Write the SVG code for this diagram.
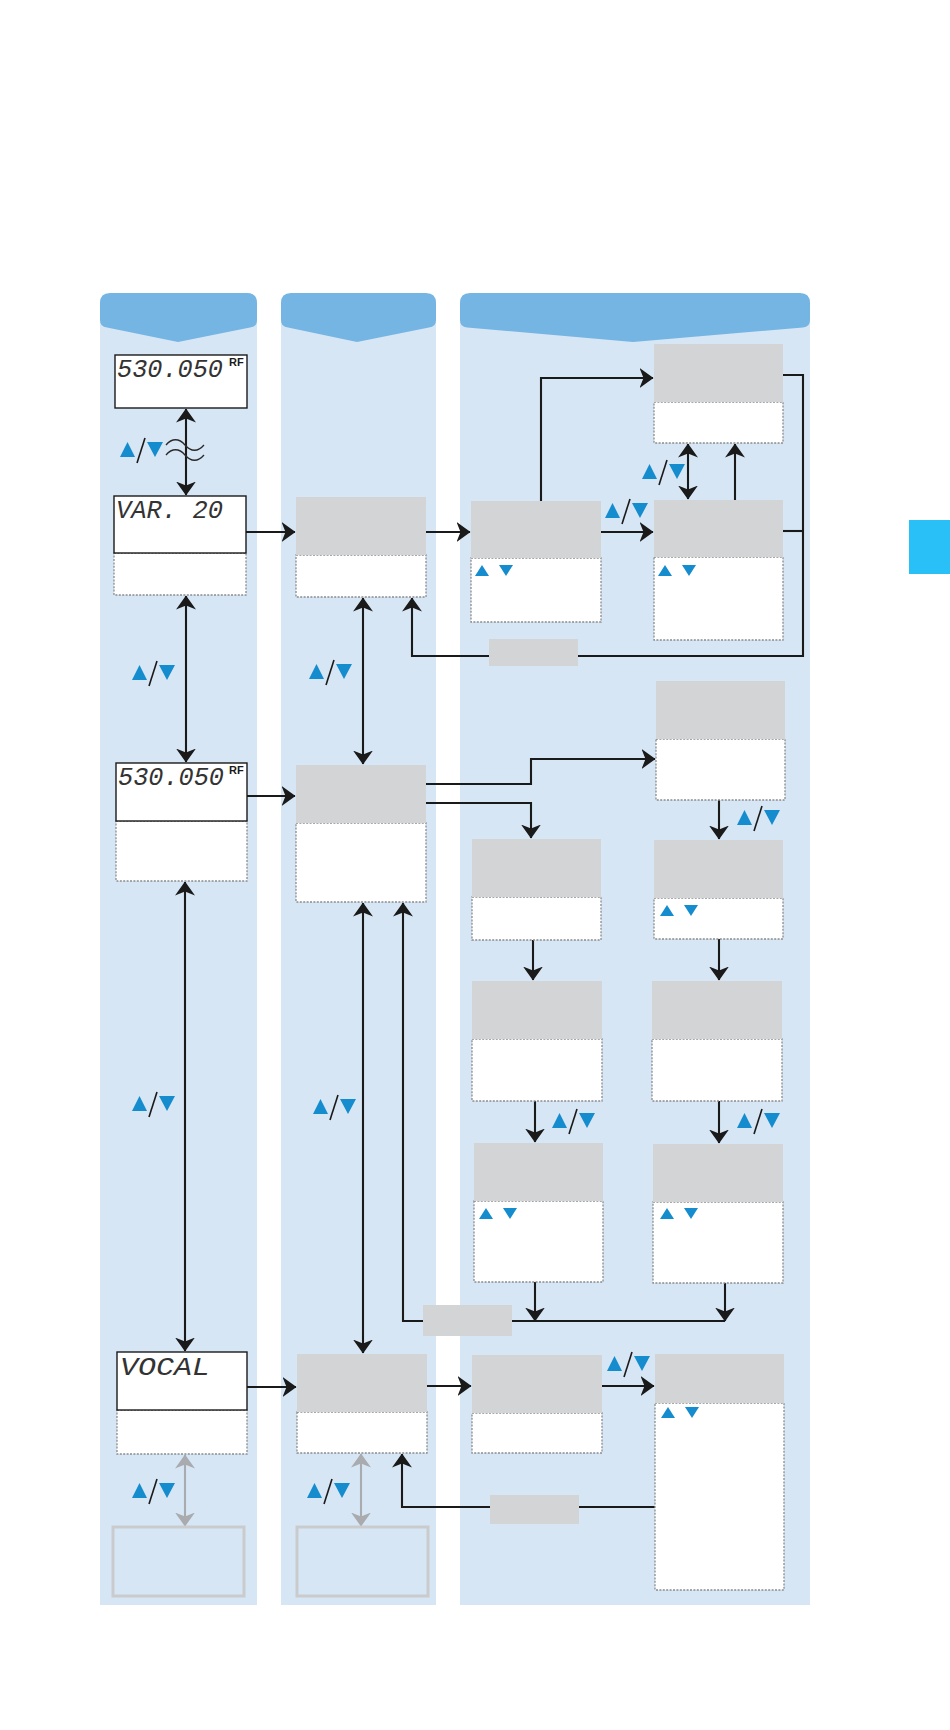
<svg xmlns="http://www.w3.org/2000/svg" width="950" height="1730" viewBox="0 0 950 1730">
<style>
.band{fill:#d7e6f4}
.hdr{fill:#74b5e4}
.grey{fill:#d3d4d6}
.dot{fill:#fff;stroke:#8a8c8e;stroke-width:1.3;stroke-dasharray:2 1.4}
.lcd{fill:#fff;stroke:#1a1a1a;stroke-width:1.4}
.fade{fill:none;stroke:#c9cbcd;stroke-width:3}
.ln{fill:none;stroke:#1a1a1a;stroke-width:2.1}
.gl{fill:none;stroke:#a9abae;stroke-width:2.1}
.tri{fill:#148ccd}
.lt{font-family:"Liberation Mono",monospace;font-style:italic;font-size:25px;fill:#333}
.rf{font-family:"Liberation Sans",Arial,sans-serif;font-weight:bold;font-size:11px;fill:#1a1a1a}
</style>
<defs>
<marker id="ah" viewBox="0 0 14 20" markerWidth="14" markerHeight="20" refX="13.5" refY="10" orient="auto-start-reverse" markerUnits="userSpaceOnUse">
<path d="M0,0 L14,10 L0,20 L4,10 z" fill="#1a1a1a"/>
</marker>
<marker id="gh" viewBox="0 0 14 20" markerWidth="14" markerHeight="20" refX="13.5" refY="10" orient="auto-start-reverse" markerUnits="userSpaceOnUse">
<path d="M0,0 L14,10 L0,20 L4,10 z" fill="#a9abae"/>
</marker>
<g id="ud">
<polygon class="tri" points="0,15 7.5,0 15,15"/>
<line x1="17" y1="21" x2="25" y2="-4" stroke="#1a1a1a" stroke-width="1.6"/>
<polygon class="tri" points="27,0 43,0 35,15"/>
</g>
<g id="pr">
<polygon class="tri" points="0,11 7,0 14,11"/>
<polygon class="tri" points="24,0 38,0 31,11"/>
</g>
</defs>

<g id="bands">
<rect class="band" x="100" y="300" width="157" height="1305"/>
<rect class="band" x="281" y="300" width="155" height="1305"/>
<rect class="band" x="460" y="300" width="350" height="1305"/>
<path class="hdr" d="M110,293 H247 Q257,293 257,303 V320 Q257,327 250,327.5 L178,342 L107,327.5 Q100,327 100,320 V303 Q100,293 110,293 Z"/>
<path class="hdr" d="M291,293 H426 Q436,293 436,303 V320 Q436,327 429,327.5 L357,342 L288,327.5 Q281,327 281,320 V303 Q281,293 291,293 Z"/>
<path class="hdr" d="M470,293 H800 Q810,293 810,303 V320 Q810,327 803,327.5 L633,342 L467,327.5 Q460,327 460,320 V303 Q460,293 470,293 Z"/>
<rect x="909" y="520" width="41" height="54" fill="#29c0f7"/>
</g>

<g id="connectors">
<line class="ln" x1="186" y1="409" x2="186" y2="495" marker-start="url(#ah)" marker-end="url(#ah)"/>
<path d="M166,445 C172,438 179,438 185,445 S198,452 204,445" fill="none" stroke="#2a2a2a" stroke-width="1.3"/>
<path d="M166,455 C172,448 179,448 185,455 S198,462 204,455" fill="none" stroke="#2a2a2a" stroke-width="1.3"/>
<line class="ln" x1="246" y1="532" x2="295" y2="532" marker-end="url(#ah)"/>
<line class="ln" x1="426" y1="532" x2="470" y2="532" marker-end="url(#ah)"/>
<line class="ln" x1="601" y1="532" x2="653" y2="532" marker-end="url(#ah)"/>
<path class="ln" d="M541,501 V378 H653" marker-end="url(#ah)"/>
<line class="ln" x1="688" y1="444" x2="688" y2="499" marker-start="url(#ah)" marker-end="url(#ah)"/>
<line class="ln" x1="735" y1="500" x2="735" y2="444" marker-end="url(#ah)"/>
<path class="ln" d="M783,375 H803 V656 H412 V598" marker-end="url(#ah)"/>
<line class="ln" x1="783" y1="531" x2="803" y2="531"/>
<line class="ln" x1="186" y1="596" x2="186" y2="762" marker-start="url(#ah)" marker-end="url(#ah)"/>
<line class="ln" x1="363" y1="598" x2="363" y2="764" marker-start="url(#ah)" marker-end="url(#ah)"/>
<line class="ln" x1="247" y1="796" x2="295" y2="796" marker-end="url(#ah)"/>
<path class="ln" d="M426,784 H531 V759 H655" marker-end="url(#ah)"/>
<path class="ln" d="M426,803 H531 V838" marker-end="url(#ah)"/>
<line class="ln" x1="719" y1="800" x2="719" y2="839" marker-end="url(#ah)"/>
<line class="ln" x1="533" y1="940" x2="533" y2="980" marker-end="url(#ah)"/>
<line class="ln" x1="719" y1="939" x2="719" y2="980" marker-end="url(#ah)"/>
<line class="ln" x1="535" y1="1101" x2="535" y2="1142" marker-end="url(#ah)"/>
<line class="ln" x1="719" y1="1101" x2="719" y2="1143" marker-end="url(#ah)"/>
<line class="ln" x1="535" y1="1282" x2="535" y2="1321" marker-end="url(#ah)"/>
<line class="ln" x1="725" y1="1283" x2="725" y2="1321" marker-end="url(#ah)"/>
<path class="ln" d="M725,1321 H403 V903" marker-end="url(#ah)"/>
<line class="ln" x1="185" y1="882" x2="185" y2="1351" marker-start="url(#ah)" marker-end="url(#ah)"/>
<line class="ln" x1="363" y1="903" x2="363" y2="1353" marker-start="url(#ah)" marker-end="url(#ah)"/>
<line class="ln" x1="247" y1="1387" x2="296" y2="1387" marker-end="url(#ah)"/>
<line class="ln" x1="427" y1="1386" x2="471" y2="1386" marker-end="url(#ah)"/>
<line class="ln" x1="602" y1="1386" x2="654" y2="1386" marker-end="url(#ah)"/>
<path class="ln" d="M655,1507 H402 V1454" marker-end="url(#ah)"/>
<line class="gl" x1="185" y1="1455" x2="185" y2="1526" marker-start="url(#gh)" marker-end="url(#gh)"/>
<line class="gl" x1="361" y1="1454" x2="361" y2="1526" marker-start="url(#gh)" marker-end="url(#gh)"/>
</g>

<g id="keys">
<use href="#ud" x="120" y="442"/>
<use href="#ud" x="132" y="665"/>
<use href="#ud" x="309" y="664"/>
<use href="#ud" x="132" y="1096"/>
<use href="#ud" x="313" y="1099"/>
<use href="#ud" x="132" y="1483"/>
<use href="#ud" x="307" y="1483"/>
<use href="#ud" x="605" y="503"/>
<use href="#ud" x="642" y="464"/>
<use href="#ud" x="737" y="810"/>
<use href="#ud" x="552" y="1113"/>
<use href="#ud" x="737" y="1113"/>
<use href="#ud" x="607" y="1356"/>
</g>

<g id="n-lcd1">
<rect class="lcd" x="115" y="355" width="132" height="53"/>
<text class="lt" x="117" y="377" textLength="106" lengthAdjust="spacingAndGlyphs">530.050</text>
<text class="rf" x="229" y="366">RF</text>
</g>
<g id="n-lcd2">
<rect class="dot" x="114" y="553" width="132" height="42"/>
<rect class="lcd" x="114" y="496" width="132" height="57"/>
<text class="lt" x="116" y="518" textLength="107" lengthAdjust="spacingAndGlyphs">VAR. 20</text>
</g>
<g id="n-lcd3">
<rect class="dot" x="116" y="821" width="131" height="60"/>
<rect class="lcd" x="116" y="763" width="131" height="58"/>
<text class="lt" x="118" y="785" textLength="106" lengthAdjust="spacingAndGlyphs">530.050</text>
<text class="rf" x="229" y="774">RF</text>
</g>
<g id="n-lcd4">
<rect class="dot" x="117" y="1410" width="130" height="44"/>
<rect class="lcd" x="117" y="1352" width="130" height="58"/>
<text class="lt" x="120" y="1375" textLength="90" lengthAdjust="spacingAndGlyphs">VOCAL</text>
</g>
<g id="n-fade1"><rect class="fade" x="113" y="1527" width="131" height="69"/></g>
<g id="n-fade2"><rect class="fade" x="297" y="1527" width="131" height="69"/></g>

<g id="n-A"><rect class="dot" x="296" y="555" width="130" height="42"/><rect class="grey" x="296" y="497" width="130" height="58"/></g>
<g id="n-B"><rect class="dot" x="296" y="823" width="130" height="79"/><rect class="grey" x="296" y="765" width="130" height="58"/></g>
<g id="n-M"><rect class="dot" x="297" y="1412" width="130" height="41"/><rect class="grey" x="297" y="1354" width="130" height="58"/></g>

<g id="n-C"><rect class="dot" x="471" y="558" width="130" height="64"/><rect class="grey" x="471" y="501" width="130" height="57"/><use href="#pr" x="475" y="565"/></g>
<g id="n-D"><rect class="dot" x="654" y="557" width="129" height="83"/><rect class="grey" x="654" y="500" width="129" height="57"/><use href="#pr" x="658" y="565"/></g>
<g id="n-E"><rect class="dot" x="654" y="402" width="129" height="41"/><rect class="grey" x="654" y="344" width="129" height="58"/></g>
<g id="n-F"><rect class="dot" x="656" y="739" width="129" height="61"/><rect class="grey" x="656" y="681" width="129" height="58"/></g>
<g id="n-G"><rect class="dot" x="472" y="897" width="129" height="43"/><rect class="grey" x="472" y="839" width="129" height="58"/></g>
<g id="n-H"><rect class="dot" x="654" y="898" width="129" height="41"/><rect class="grey" x="654" y="840" width="129" height="58"/><use href="#pr" x="660" y="905"/></g>
<g id="n-I"><rect class="dot" x="472" y="1039" width="130" height="62"/><rect class="grey" x="472" y="981" width="130" height="58"/></g>
<g id="n-J"><rect class="dot" x="652" y="1039" width="130" height="62"/><rect class="grey" x="652" y="981" width="130" height="58"/></g>
<g id="n-K"><rect class="dot" x="474" y="1201" width="129" height="81"/><rect class="grey" x="474" y="1143" width="129" height="58"/><use href="#pr" x="479" y="1208"/></g>
<g id="n-L"><rect class="dot" x="653" y="1202" width="130" height="81"/><rect class="grey" x="653" y="1144" width="130" height="58"/><use href="#pr" x="660" y="1208"/></g>
<g id="n-O"><rect class="dot" x="472" y="1413" width="130" height="40"/><rect class="grey" x="472" y="1355" width="130" height="58"/></g>
<g id="n-N"><rect class="dot" x="655" y="1403" width="129" height="187"/><rect class="grey" x="655" y="1354" width="129" height="49"/><use href="#pr" x="661" y="1407"/></g>

<g id="n-lab1"><rect class="grey" x="489" y="639" width="89" height="27"/></g>
<g id="n-lab2"><rect class="grey" x="423" y="1305" width="89" height="31"/></g>
<g id="n-lab3"><rect class="grey" x="490" y="1495" width="89" height="29"/></g>
</svg>
